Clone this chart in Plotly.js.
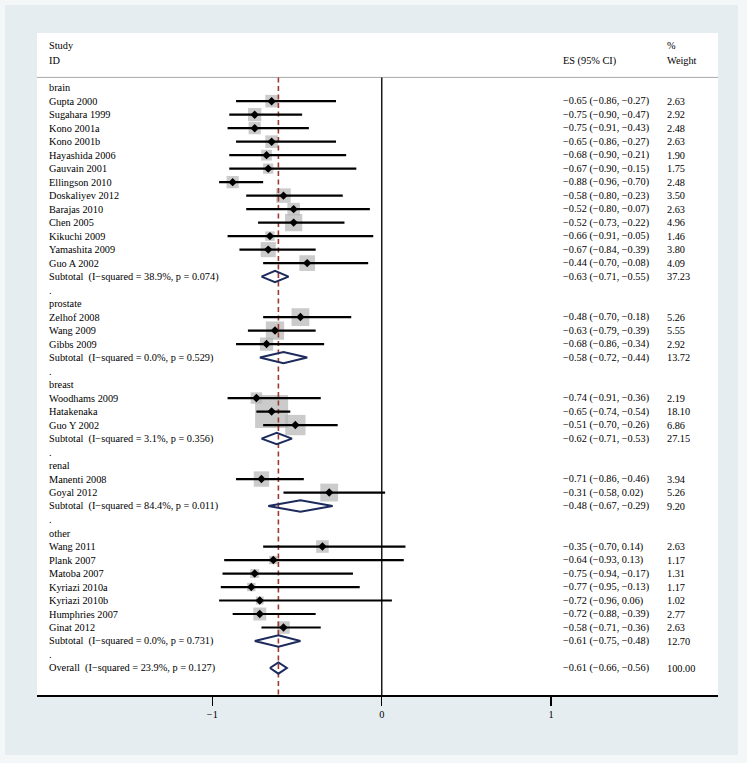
<!DOCTYPE html>
<html><head><meta charset="utf-8">
<script src="https://cdn.plot.ly/plotly-3.0.1.min.js"></script>
<style>html,body{margin:0;padding:0;background:#f4f7f8}</style>
</head><body><div id="chart" style="width:747px;height:763px"></div>
<script>
// ---------- DATA ----------
const groupNames = ['brain','prostate','breast','renal','other'];
const studyNames = ['Gupta 2000','Sugahara 1999','Kono 2001a','Kono 2001b','Hayashida 2006','Gauvain 2001','Ellingson 2010','Doskaliyev 2012','Barajas 2010','Chen 2005','Kikuchi 2009','Yamashita 2009','Guo A 2002',
  'Zelhof 2008','Wang 2009','Gibbs 2009',
  'Woodhams 2009','Hatakenaka','Guo Y 2002',
  'Manenti 2008','Goyal 2012',
  'Wang 2011','Plank 2007','Matoba 2007','Kyriazi 2010a','Kyriazi 2010b','Humphries 2007','Ginat 2012'];
const studyGroup = [0,0,0,0,0,0,0,0,0,0,0,0,0, 1,1,1, 2,2,2, 3,3, 4,4,4,4,4,4,4];
const studyES = [-0.65,-0.75,-0.75,-0.65,-0.68,-0.67,-0.88,-0.58,-0.52,-0.52,-0.66,-0.67,-0.44,
  -0.48,-0.63,-0.68, -0.74,-0.65,-0.51, -0.71,-0.31, -0.35,-0.64,-0.75,-0.77,-0.72,-0.72,-0.58];
const studyLo = [-0.86,-0.90,-0.91,-0.86,-0.90,-0.90,-0.96,-0.80,-0.80,-0.73,-0.91,-0.84,-0.70,
  -0.70,-0.79,-0.86, -0.91,-0.74,-0.70, -0.86,-0.58, -0.70,-0.93,-0.94,-0.95,-0.96,-0.88,-0.71];
const studyHi = [-0.27,-0.47,-0.43,-0.27,-0.21,-0.15,-0.70,-0.23,-0.07,-0.22,-0.05,-0.39,-0.08,
  -0.18,-0.39,-0.34, -0.36,-0.54,-0.26, -0.46,0.02, 0.14,0.13,-0.17,-0.13,0.06,-0.39,-0.36];
const studyWeight = [2.63,2.92,2.48,2.63,1.90,1.75,2.48,3.50,2.63,4.96,1.46,3.80,4.09,
  5.26,5.55,2.92, 2.19,18.10,6.86, 3.94,5.26, 2.63,1.17,1.31,1.17,1.02,2.77,2.63];
const subtotalHet = ['I\u2212squared = 38.9%, p = 0.074','I\u2212squared = 0.0%, p = 0.529','I\u2212squared = 3.1%, p = 0.356','I\u2212squared = 84.4%, p = 0.011','I\u2212squared = 0.0%, p = 0.731'];
const subtotalES = [-0.63,-0.58,-0.62,-0.48,-0.61];
const subtotalLo = [-0.71,-0.72,-0.71,-0.67,-0.75];
const subtotalHi = [-0.55,-0.44,-0.53,-0.29,-0.48];
const subtotalWeight = [37.23,13.72,27.15,9.20,12.70];
const overallHet = 'I\u2212squared = 23.9%, p = 0.127';
const overallES = -0.61, overallLo = -0.66, overallHi = -0.56, overallWeight = 100.00;
const xTickVals = [-1,0,1];
const xTickText = ['\u22121','0','1'];

// ---------- BUILD ROWS ----------
const rows = [];
let r = 0;
groupNames.forEach((g, gi) => {
  rows.push({label: g, kind: 'head', y: r++});
  studyNames.forEach((n, i) => {
    if (studyGroup[i] === gi) rows.push({label: n, kind: 'study', es: studyES[i], lo: studyLo[i], hi: studyHi[i], w: studyWeight[i], y: r++});
  });
  rows.push({label: 'Subtotal\u00a0 (' + subtotalHet[gi] + ')', kind: 'sub', es: subtotalES[gi], lo: subtotalLo[gi], hi: subtotalHi[gi], w: subtotalWeight[gi], y: r++});
  rows.push({label: '.', kind: 'dot', y: r++});
});
rows.push({label: 'Overall\u00a0 (' + overallHet + ')', kind: 'overall', es: overallES, lo: overallLo, hi: overallHi, w: overallWeight, y: r++});

const fmt = v => (v < 0 ? '\u2212' : '') + Math.abs(v).toFixed(2);
const FONT = {family: '"Liberation Serif", "Times New Roman", serif', size: 10.3, color: '#000'};
const SEP_Y = -0.76, Y_BOTTOM = 45.0, Y_TOP = -4.05;

const studies = rows.filter(d => d.kind === 'study');
const pooled = rows.filter(d => d.kind === 'sub' || d.kind === 'overall');

// ---------- TRACES ----------
const traces = [];
traces.push({ // weight boxes
  type: 'scatter', mode: 'markers', hoverinfo: 'skip',
  x: studies.map(d => d.es), y: studies.map(d => d.y),
  marker: {symbol: 'square', color: '#b5b5b5', size: studies.map(d => 7.76 * Math.sqrt(d.w)), line: {width: 0}}
});
traces.push({ // zero line
  type: 'scatter', mode: 'lines', hoverinfo: 'skip',
  x: [0, 0], y: [SEP_Y, Y_BOTTOM], line: {color: '#1a1a1a', width: 1.5}
});
traces.push({ // overall dashed line
  type: 'scatter', mode: 'lines', hoverinfo: 'skip',
  x: [overallES, overallES], y: [SEP_Y, Y_BOTTOM], line: {color: '#a0392f', width: 1.6, dash: '5px,3.5px'}
});
const cx = [], cy = [];
studies.forEach(d => { cx.push(d.lo, d.hi, null); cy.push(d.y, d.y, null); });
traces.push({ // CI lines
  type: 'scatter', mode: 'lines', hoverinfo: 'skip', x: cx, y: cy, line: {color: '#000', width: 2.2}
});
traces.push({ // point estimates
  type: 'scatter', mode: 'markers', hoverinfo: 'skip',
  x: studies.map(d => d.es), y: studies.map(d => d.y),
  marker: {symbol: 'diamond', color: '#000', size: 6.5}
});
const dx = [], dy = [], H = 0.42;
pooled.forEach(d => { dx.push(d.lo, d.es, d.hi, d.es, d.lo, null); dy.push(d.y, d.y - H, d.y, d.y + H, d.y, null); });
traces.push({ // pooled diamonds
  type: 'scatter', mode: 'lines', hoverinfo: 'skip', x: dx, y: dy, line: {color: '#1c2a5c', width: 2}
});

// ---------- TEXT ----------
const ann = [];
const LX = 0.0162, ESX = 0.771, WX = 0.9236;
function t(x, y, s) {
  ann.push({xref: 'paper', yref: 'y', x: x, y: y, text: s, showarrow: false, xanchor: 'left', yanchor: 'middle', align: 'left', font: FONT, borderpad: 0});
}
t(LX, -3.1, 'Study'); t(LX, -1.98, 'ID');
t(ESX, -1.98, 'ES (95% CI)');
t(WX, -3.1, '%'); t(WX, -1.98, 'Weight');
rows.forEach(d => {
  t(LX, d.y, d.label);
  if (d.es !== undefined) {
    t(ESX, d.y, fmt(d.es) + ' (' + fmt(d.lo) + ', ' + fmt(d.hi) + ')');
    t(WX, d.y, d.w.toFixed(2));
  }
});

const layout = {
  width: 747, height: 763,
  margin: {l: 37, r: 29, t: 33, b: 68},
  paper_bgcolor: '#f4f7f8', plot_bgcolor: '#ffffff',
  showlegend: false,
  font: FONT,
  xaxis: {range: [-2.035, 1.985], showgrid: false, zeroline: false, showline: true, linecolor: '#000', linewidth: 1.5,
    ticks: 'outside', ticklen: 9, tickwidth: 1.5, tickcolor: '#000', tickvals: xTickVals, ticktext: xTickText, tickfont: FONT, fixedrange: true},
  yaxis: {range: [Y_BOTTOM, Y_TOP], visible: false, fixedrange: true},
  shapes: [
    {type: 'rect', xref: 'paper', yref: 'paper', x0: -0.047, x1: 1.0294, y0: -0.0906, y1: 1.0423, fillcolor: '#e6edf0', line: {width: 0}, layer: 'below'},
    {type: 'rect', xref: 'paper', yref: 'paper', x0: 0, x1: 1, y0: 0, y1: 1, fillcolor: '#ffffff', line: {width: 0}, layer: 'below'},
    {type: 'line', xref: 'paper', yref: 'y', x0: 0, x1: 1, y0: SEP_Y, y1: SEP_Y, line: {color: '#a8a8a8', width: 1}, layer: 'below'}
  ],
  annotations: ann
};
Plotly.newPlot('chart', traces, layout, {displayModeBar: false, staticPlot: true});
</script></body></html>
